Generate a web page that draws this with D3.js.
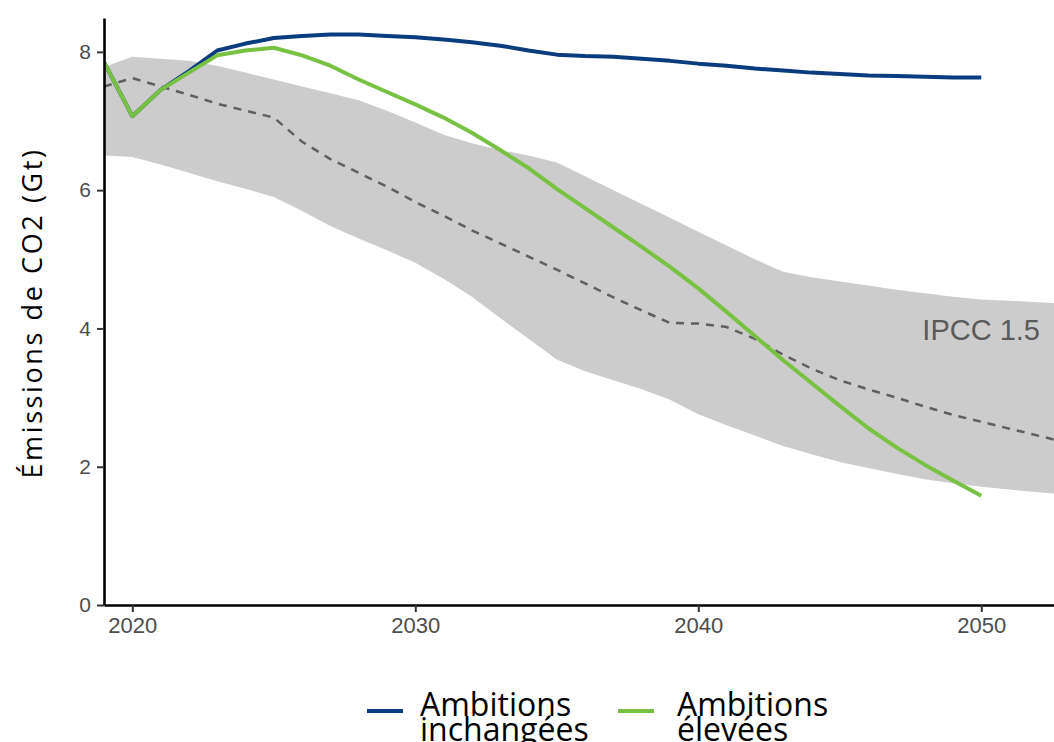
<!DOCTYPE html>
<html>
<head>
<meta charset="utf-8">
<script src="https://cdn.jsdelivr.net/npm/d3@7"></script>
<style>
  html, body { margin: 0; padding: 0; background: #fff; }
  svg { display: block; }
</style>
</head>
<body>
<svg id="chart" width="1054" height="742"></svg>
<script>
// Years for the scenario paths
const years = d3.range(2019, 2051);
// Emissions, unchanged ambitions (Gt CO2)
const inchangees = [7.85, 7.07, 7.45, 7.72, 8.02, 8.12, 8.20, 8.23, 8.25, 8.25, 8.23, 8.21,
  8.18, 8.14, 8.09, 8.02, 7.96, 7.94, 7.93, 7.90, 7.87, 7.83, 7.80, 7.76, 7.73, 7.70,
  7.68, 7.66, 7.65, 7.64, 7.63, 7.63];
// Emissions, high ambitions (Gt CO2)
const elevees = [7.85, 7.07, 7.45, 7.70, 7.95, 8.02, 8.06, 7.95, 7.80, 7.60, 7.42, 7.24,
  7.05, 6.83, 6.58, 6.32, 6.02, 5.74, 5.46, 5.18, 4.89, 4.58, 4.24, 3.89, 3.54, 3.21,
  2.88, 2.56, 2.28, 2.03, 1.80, 1.58];

// IPCC 1.5 °C pathway range and median
const ipccYears = d3.range(2019, 2054);
const ipccHaut = [7.78, 7.93, 7.90, 7.87, 7.80, 7.70, 7.60, 7.50, 7.40, 7.30, 7.15, 6.98,
  6.80, 6.68, 6.58, 6.50, 6.40, 6.20, 6.00, 5.80, 5.60, 5.40, 5.20, 5.00, 4.82, 4.74,
  4.68, 4.62, 4.56, 4.51, 4.46, 4.42, 4.40, 4.38, 4.36];
const ipccBas = [6.50, 6.48, 6.37, 6.25, 6.13, 6.02, 5.90, 5.70, 5.48, 5.30, 5.13, 4.95,
  4.72, 4.46, 4.15, 3.85, 3.55, 3.38, 3.25, 3.12, 2.97, 2.76, 2.60, 2.45, 2.30, 2.18,
  2.07, 1.98, 1.90, 1.82, 1.76, 1.71, 1.67, 1.63, 1.60];
const ipccMediane = [7.50, 7.62, 7.50, 7.38, 7.25, 7.15, 7.05, 6.70, 6.45, 6.25, 6.05, 5.83,
  5.63, 5.42, 5.23, 5.04, 4.85, 4.65, 4.45, 4.26, 4.08, 4.07, 4.02, 3.85, 3.62, 3.42,
  3.25, 3.12, 3.00, 2.87, 2.75, 2.65, 2.55, 2.45, 2.35];

const xTicks = [2020, 2030, 2040, 2050];
const yTicks = [0, 2, 4, 6, 8];

const series = [
  { name: ["Ambitions", "inchangées"], values: inchangees, color: "#0b3c7d" },
  { name: ["Ambitions", "élevées"], values: elevees, color: "#79c143" }
];

const W = 1054, H = 742;
const margin = { top: 18, right: 0, bottom: 137, left: 104 };
const svg = d3.select("#chart");

const x = d3.scaleLinear().domain([2019, 2052.57]).range([margin.left, W - margin.right]);
const y = d3.scaleLinear().domain([0, 8.49]).range([H - margin.bottom, margin.top]);

svg.append("defs").append("clipPath").attr("id", "plot-clip")
  .append("rect")
  .attr("x", margin.left).attr("y", margin.top)
  .attr("width", W - margin.left - margin.right)
  .attr("height", H - margin.top - margin.bottom);

const plot = svg.append("g").attr("clip-path", "url(#plot-clip)");

// IPCC range
const ipcc = ipccYears.map((yr, i) => ({ yr, lo: ipccBas[i], hi: ipccHaut[i], med: ipccMediane[i] }));
plot.append("path")
  .datum(ipcc)
  .attr("fill", "#cccccc")
  .attr("d", d3.area().x(d => x(d.yr)).y0(d => y(d.lo)).y1(d => y(d.hi)));

plot.append("path")
  .datum(ipcc)
  .attr("fill", "none")
  .attr("stroke", "#5f5f5f")
  .attr("stroke-width", 2.5)
  .attr("stroke-dasharray", "8,7")
  .attr("d", d3.line().x(d => x(d.yr)).y(d => y(d.med)));

// Scenario lines
const line = d3.line().x(d => x(d.yr)).y(d => y(d.v));
series.forEach(s => {
  plot.append("path")
    .datum(years.map((yr, i) => ({ yr, v: s.values[i] })))
    .attr("fill", "none")
    .attr("stroke", s.color)
    .attr("stroke-width", 4)
    .attr("stroke-linejoin", "round")
    .attr("d", line);
});

// Range label
plot.append("text")
  .attr("x", 1040)
  .attr("y", y(3.84))
  .attr("text-anchor", "end")
  .attr("font-family", "Liberation Sans, Arial, sans-serif")
  .attr("font-size", 29)
  .attr("fill", "#5a5a5a")
  .text("IPCC 1.5");

// Axes
const xAxis = svg.append("g")
  .attr("transform", `translate(0,${H - margin.bottom})`)
  .call(d3.axisBottom(x).tickValues(xTicks).tickFormat(d3.format("d")).tickSize(7).tickPadding(5).tickSizeOuter(0));
const yAxis = svg.append("g")
  .attr("transform", `translate(${margin.left},0)`)
  .call(d3.axisLeft(y).tickValues(yTicks).tickSize(7).tickPadding(6).tickSizeOuter(0));

[xAxis, yAxis].forEach(g => {
  g.select(".domain").attr("stroke", "#000").attr("stroke-width", 2.6);
  g.selectAll(".tick line").attr("stroke", "#333").attr("stroke-width", 2);
  g.selectAll(".tick text")
    .attr("font-family", "Liberation Sans, Arial, sans-serif")
    .attr("font-size", 22)
    .attr("fill", "#4d4d4d");
});
yAxis.selectAll(".tick text").attr("font-size", 21);

// Y axis title
svg.append("text")
  .attr("transform", `translate(42,313) rotate(-90)`)
  .attr("text-anchor", "middle")
  .attr("font-family", "Open Sans, Noto Sans, sans-serif")
  .attr("font-size", 27)
  .attr("letter-spacing", 2.6)
  .attr("fill", "#000")
  .text("Émissions de CO2 (Gt)");

// Legend
const legendKeyX = [367, 618];
const legendTextX = [420, 677];
series.forEach((s, i) => {
  svg.append("line")
    .attr("x1", legendKeyX[i]).attr("x2", legendKeyX[i] + 36)
    .attr("y1", 711).attr("y2", 711)
    .attr("stroke", s.color).attr("stroke-width", 4);
  const t = svg.append("text")
    .attr("x", legendTextX[i])
    .attr("y", 716)
    .attr("font-family", "Open Sans, Noto Sans, sans-serif")
    .attr("font-size", 32)
    .attr("fill", "#000");
  s.name.forEach((part, j) => {
    t.append("tspan").attr("x", legendTextX[i]).attr("dy", j === 0 ? 0 : 25).text(part);
  });
});
</script>
</body>
</html>
